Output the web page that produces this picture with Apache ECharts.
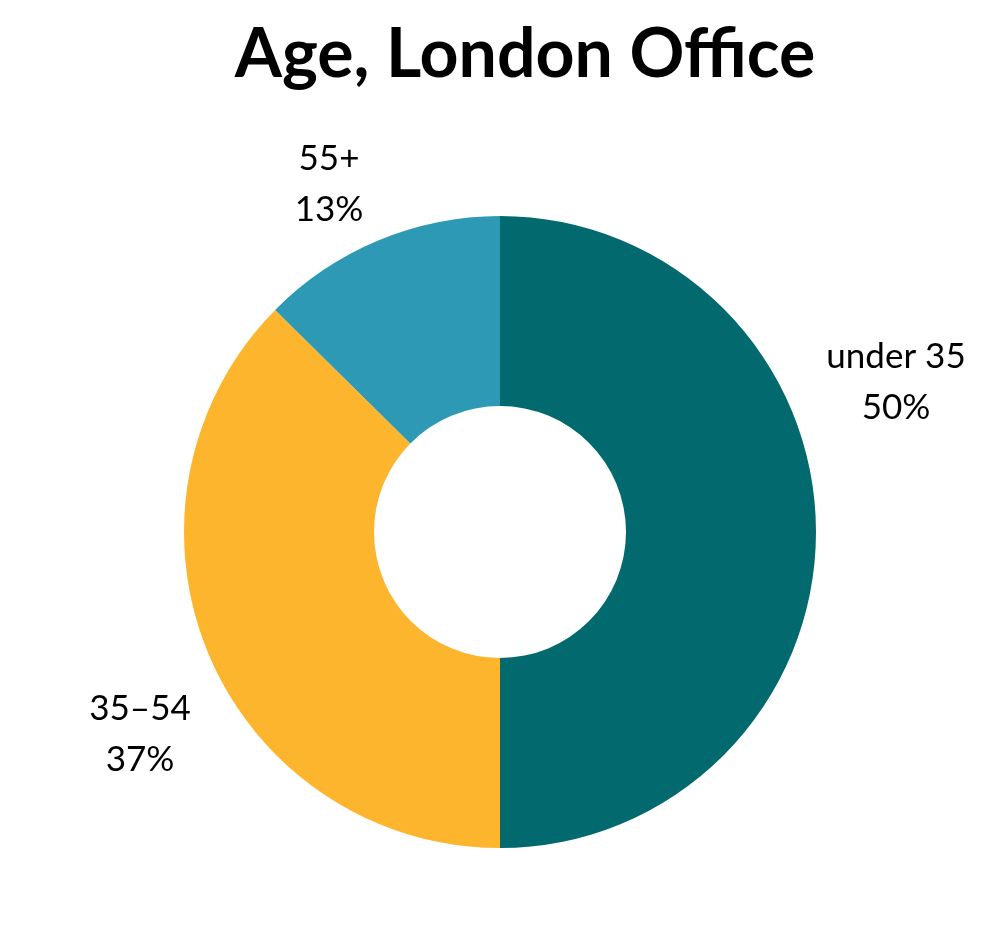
<!DOCTYPE html>
<html>
<head>
<meta charset="utf-8">
<title>Age, London Office</title>
<script src="https://cdn.jsdelivr.net/npm/echarts@6/dist/echarts.min.js"></script>
<style>
  html, body { margin: 0; padding: 0; background: #fff; }
  #chart { width: 1000px; height: 946px; }
</style>
</head>
<body>
<div id="chart"></div>
<script>
const categories = ['under 35', '35–54', '55+'];
const shares = [50, 37.4, 12.6];
const colors = ['#02696E', '#FDB52E', '#2E99B5'];

// label centres, tuned to the picture
const labelSpots = [[896, 382], [140, 734], [329, 184]];

const chart = echarts.init(document.getElementById('chart'));

chart.setOption({
    animation: false,
    title: {
        text: 'Age, London Office',
        left: 520,
        top: 16,
        textAlign: 'center',
        textStyle: { fontFamily: 'Lato', fontWeight: 'bold', fontSize: 68, color: '#000' }
    },
    series: [{
        type: 'pie',
        center: [500, 532],
        radius: [126, 316],
        startAngle: 90,
        clockwise: true,
        percentPrecision: 0,
        label: {
            show: true,
            position: 'outside',
            formatter: '{b}\n{d}%',
            fontFamily: 'Lato',
            fontSize: 35,
            lineHeight: 51,
            color: '#000',
            overflow: 'none'
        },
        labelLine: { show: false },
        labelLayout: params => ({
            x: labelSpots[params.dataIndex][0],
            y: labelSpots[params.dataIndex][1],
            align: 'center',
            verticalAlign: 'middle',
            width: 300
        }),
        data: categories.map((name, i) => ({
            name,
            value: shares[i],
            itemStyle: { color: colors[i] }
        }))
    }]
});
</script>
</body>
</html>
